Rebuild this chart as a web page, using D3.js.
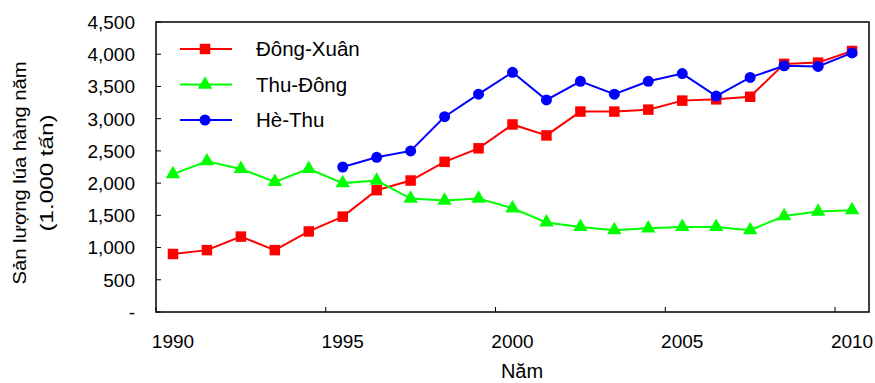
<!DOCTYPE html>
<html>
<head>
<meta charset="utf-8">
<script src="https://cdn.jsdelivr.net/npm/d3@7"></script>
<style>
  body { margin: 0; background: #fff; }
  text { font-family: "Liberation Sans", Arial, sans-serif; fill: #000; }
</style>
</head>
<body>
<svg id="chart" width="875" height="383"></svg>
<script>
// years on the category axis
const years = d3.range(1990, 2011)
const yearLabels = [1990, 1995, 2000, 2005, 2010]
const yTicks = [0, 500, 1000, 1500, 2000, 2500, 3000, 3500, 4000, 4500]

// rice output per season (1.000 tấn)
const dongXuan = [900, 960, 1170, 960, 1250, 1480, 1890, 2040, 2330, 2540, 2910, 2740, 3110, 3110, 3140, 3280, 3300, 3340, 3850, 3870, 4050]
const thuDong = [2140, 2340, 2220, 2020, 2220, 2000, 2040, 1760, 1730, 1760, 1610, 1390, 1320, 1270, 1300, 1320, 1320, 1270, 1490, 1560, 1580]
const heThu = [null, null, null, null, null, 2250, 2400, 2500, 3030, 3380, 3720, 3290, 3580, 3380, 3580, 3700, 3350, 3640, 3820, 3810, 4020]

const series = [
  { name: 'Đông-Xuân', values: dongXuan, color: '#ff0000', symbol: d3.symbolSquare, size: 110 },
  { name: 'Thu-Đông', values: thuDong, color: '#00ff00', symbol: d3.symbolTriangle, size: 90 },
  { name: 'Hè-Thu', values: heThu, color: '#0000ff', symbol: d3.symbolCircle, size: 95 }
]

const svg = d3.select('#chart')
const plotL = 156, plotR = 869, plotT = 22, plotB = 312

const x = d3.scaleBand().domain(years).range([plotL, plotR]).padding(0)
const y = d3.scaleLinear().domain([0, 4500]).range([plotB, plotT])
const cx = d => x(d) + x.bandwidth() / 2

// y axis ticks (inside) + labels
const yAxis = svg.append('g')
yAxis.selectAll('line').data(yTicks).join('line')
  .attr('x1', plotL).attr('x2', plotL + 5)
  .attr('y1', d => y(d)).attr('y2', d => y(d))
  .attr('stroke', '#000').attr('stroke-width', 1)
yAxis.selectAll('text').data(yTicks).join('text')
  .attr('x', 135).attr('y', d => y(d)).attr('dy', '0.36em')
  .attr('text-anchor', 'end')
  .style('font-size', '19px')
  .text(d => d === 0 ? '-' : d3.format(',')(d))

// x axis: ticks at category boundaries every 5 years
const xAxis = svg.append('g')
xAxis.selectAll('line').data(yearLabels).join('line')
  .attr('x1', d => x(d)).attr('x2', d => x(d))
  .attr('y1', plotB).attr('y2', plotB - 5)
  .attr('stroke', '#000').attr('stroke-width', 1)
xAxis.selectAll('text').data(yearLabels).join('text')
  .attr('x', d => cx(d)).attr('y', 348)
  .attr('text-anchor', 'middle')
  .style('font-size', '19px')
  .text(d => d)

// plot frame
svg.append('rect')
  .attr('x', plotL).attr('y', plotT)
  .attr('width', plotR - plotL).attr('height', plotB - plotT)
  .attr('fill', 'none').attr('stroke', '#000').attr('stroke-width', 1.5)

// lines and markers
const line = d3.line()
  .defined(d => d.v != null)
  .x(d => cx(d.year))
  .y(d => y(d.v))

series.forEach(s => {
  const pts = years.map((yr, i) => ({ year: yr, v: s.values[i] }))
  const g = svg.append('g')
  g.append('path')
    .datum(pts)
    .attr('d', line)
    .attr('fill', 'none')
    .attr('stroke', s.color)
    .attr('stroke-width', 2)
  g.selectAll('path.m').data(pts.filter(d => d.v != null)).join('path')
    .attr('class', 'm')
    .attr('transform', d => `translate(${cx(d.year)},${y(d.v)})`)
    .attr('d', d3.symbol().type(s.symbol).size(s.size))
    .attr('fill', s.color)
})

// legend
const legend = svg.append('g')
series.forEach((s, i) => {
  const ly = 49 + i * 35.5
  legend.append('line')
    .attr('x1', 180).attr('x2', 232).attr('y1', ly).attr('y2', ly)
    .attr('stroke', s.color).attr('stroke-width', 2)
  legend.append('path')
    .attr('transform', `translate(205,${ly})`)
    .attr('d', d3.symbol().type(s.symbol).size(s.size))
    .attr('fill', s.color)
  legend.append('text')
    .attr('x', 256).attr('y', ly).attr('dy', '0.36em')
    .style('font-size', '20.5px')
    .text(s.name)
})

// axis titles
svg.append('text')
  .attr('x', 522).attr('y', 378)
  .attr('text-anchor', 'middle')
  .style('font-size', '20px')
  .text('Năm')

const yt = svg.append('g').attr('transform', 'translate(0,173) rotate(-90)')
yt.append('text')
  .attr('x', 0).attr('y', 26)
  .attr('text-anchor', 'middle')
  .attr('textLength', 223).attr('lengthAdjust', 'spacingAndGlyphs')
  .style('font-size', '18.5px')
  .text('Sản lượng lúa hàng năm')
yt.append('text')
  .attr('x', 0).attr('y', 53)
  .attr('text-anchor', 'middle')
  .attr('textLength', 117).attr('lengthAdjust', 'spacingAndGlyphs')
  .style('font-size', '18.5px')
  .text('(1.000 tấn)')
</script>
</body>
</html>
